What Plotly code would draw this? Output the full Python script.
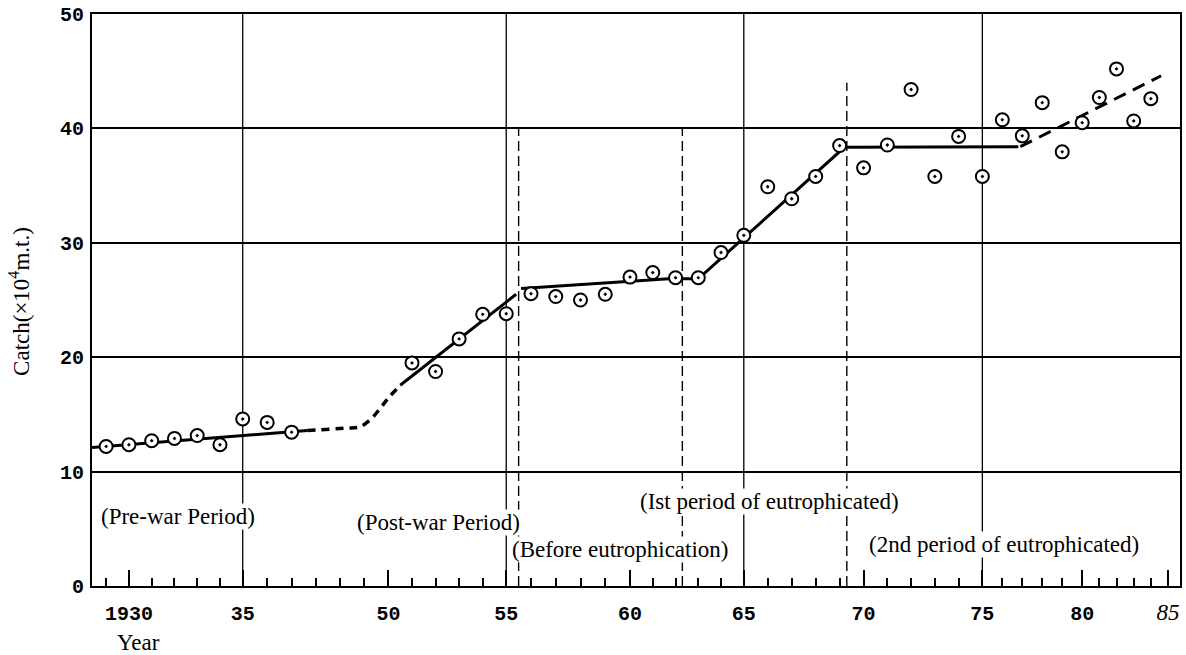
import numpy as np
import plotly.graph_objects as go

# ---------------- data ----------------
OBS_YEARS = [1929, 1930, 1931, 1932, 1933, 1934, 1935, 1936, 1937,
             1951, 1952, 1953, 1954, 1955, 1956, 1957, 1958, 1959, 1960,
             1961, 1962, 1963, 1964, 1965, 1966, 1967, 1968, 1969, 1970,
             1971, 1972, 1973, 1974, 1975, 1976, 1977, 1978, 1979, 1980,
             1981, 1982, 1983, 1984]
OBS_CATCH = [12.2, 12.35, 12.7, 12.9, 13.15, 12.35, 14.6, 14.3, 13.45,
             19.5, 18.75, 21.6, 23.75, 23.8, 25.55, 25.3, 25.0, 25.5, 27.0,
             27.4, 26.95, 26.95, 29.15, 30.65, 34.9, 33.85, 35.8, 38.5, 36.55,
             38.55, 43.4, 35.8, 39.3, 35.8, 40.75, 39.35, 42.25, 37.95, 40.5,
             42.7, 45.2, 40.65, 42.6]

PREWAR_YEARS = [1928.38, 1939.1]
PREWAR_CATCH = [12.1, 13.6]

WAR_YEARS = [1939.1, 1944.3, 1946.1, 1947.5, 1948.8, 1950.0, 1950.5]
WAR_CATCH = [13.6, 13.8, 13.9, 14.5, 15.45, 16.45, 17.5]

POSTWAR_YEARS = [1950.5, 1955.4]
POSTWAR_CATCH = [17.55, 25.5]

EUTRO_YEARS = [1955.6, 1961.7, 1963.0, 1969.2, 1976.8]
EUTRO_CATCH = [26.0, 26.85, 26.85, 38.35, 38.4]

LATE_YEARS = [1976.9, 1984.6]
LATE_CATCH = [38.4, 44.6]

GRID_YEARS = [1935, 1955, 1965, 1975]
PERIOD_YEARS = [1955.5, 1962.3, 1969.3]
PERIOD_TOPS = [40, 40, 44]

LABEL_YEARS = [1930, 1935, 1950, 1955, 1960, 1965, 1970, 1975, 1980, 1985]
LABEL_TEXT = ["1930", "35", "50", "55", "60", "65", "70", "75", "80",
              "<span style='font-family:Liberation Serif;font-size:23px;font-weight:normal'><i>85</i></span>"]

PERIOD_LABELS = ["(Pre-war Period)", "(Post-war Period)", "(Before eutrophication)",
                 "(Ist period of eutrophicated)", "(2nd period of eutrophicated)"]

# drawn (hand-ruled) year scale of the original figure, with the war gap compressed
YEAR_KNOTS = [1928.38, 1930, 1935, 1937, 1950, 1955, 1960, 1965, 1970, 1975, 1980, 1985, 1985.7]
RULER_KNOTS = [0, 37, 151, 200, 297, 415, 539, 653, 773, 892, 992, 1078, 1090]


def R(years):
    return np.interp(np.asarray(years, dtype=float), YEAR_KNOTS, RULER_KNOTS)


minor_years = [y for y in range(1929, 1938) if y not in LABEL_YEARS]
minor_years += [1937 + 13 * k / 4 for k in (1, 2, 3)]
minor_years += [y for y in range(1951, 1986) if y not in LABEL_YEARS]

fig = go.Figure()

line_style = dict(color="black", width=3)
fig.add_trace(go.Scatter(x=R(PREWAR_YEARS), y=PREWAR_CATCH, mode="lines", line=line_style))
fig.add_trace(go.Scatter(x=R(WAR_YEARS), y=WAR_CATCH, mode="lines",
                         line=dict(color="black", width=3.5, dash="8px,6px", shape="spline")))
fig.add_trace(go.Scatter(x=R(POSTWAR_YEARS), y=POSTWAR_CATCH, mode="lines", line=line_style))
fig.add_trace(go.Scatter(x=R(EUTRO_YEARS), y=EUTRO_CATCH, mode="lines", line=line_style))
fig.add_trace(go.Scatter(x=R(LATE_YEARS), y=LATE_CATCH, mode="lines",
                         line=dict(color="black", width=3, dash="13px,8px")))
fig.add_trace(go.Scatter(x=R(OBS_YEARS), y=OBS_CATCH, mode="markers",
                         marker=dict(symbol="circle-dot", size=13, color="white",
                                     line=dict(color="black", width=2))))

shapes = []
for yr in GRID_YEARS:
    xv = float(R(yr))
    shapes.append(dict(type="line", xref="x", yref="y", x0=xv, x1=xv, y0=0, y1=50,
                       line=dict(color="black", width=1.3), layer="below"))
for yr, top in zip(PERIOD_YEARS, PERIOD_TOPS):
    xv = float(R(yr))
    shapes.append(dict(type="line", xref="x", yref="y", x0=xv, x1=xv, y0=0, y1=top,
                       line=dict(color="black", width=1.4, dash="10px,5px"), layer="below"))

serif = "Liberation Serif"
mono = "Liberation Mono"

ann_pos = [(1928.75, 6.1), (1945.7, 5.55), (1955.2, 3.2), (1960.4, 7.4), (1970.2, 3.65)]
annotations = []
for text, (yr, val) in zip(PERIOD_LABELS, ann_pos):
    annotations.append(dict(x=float(R(yr)), y=val, xref="x", yref="y", text=text,
                            showarrow=False, xanchor="left", yanchor="middle",
                            bgcolor="white", borderpad=0,
                            font=dict(family=serif, size=23, color="black")))
annotations.append(dict(x=-0.066, y=0.497, xref="paper", yref="paper",
                        text="Catch(×10<sup>4</sup>m.t.)", textangle=-90, showarrow=False,
                        xanchor="center", yanchor="middle",
                        font=dict(family=serif, size=23, color="black")))
annotations.append(dict(x=float(R(1930.4)), y=-0.099, xref="x", yref="paper", text="Year",
                        showarrow=False, xanchor="center", yanchor="middle",
                        font=dict(family=serif, size=23, color="black")))

fig.update_layout(
    width=1186, height=655,
    margin=dict(l=92, r=4, t=11, b=69),
    paper_bgcolor="white", plot_bgcolor="white",
    showlegend=False,
    shapes=shapes, annotations=annotations,
    xaxis=dict(range=[0, 1090], tickmode="array", tickvals=R(LABEL_YEARS), ticktext=LABEL_TEXT,
               ticks="inside", ticklen=16, tickwidth=1.5, tickcolor="black",
               showgrid=False, zeroline=False, showline=True, linecolor="black", linewidth=2,
               mirror=True, ticklabelstandoff=8,
               tickfont=dict(family=mono, size=20, color="black", weight="bold"),
               minor=dict(tickmode="array", tickvals=R(minor_years), ticks="inside",
                          ticklen=8, tickwidth=1.5, tickcolor="black", showgrid=False)),
    yaxis=dict(range=[0, 50], tickmode="array", tickvals=[0, 10, 20, 30, 40, 50],
               ticks="", showgrid=True, gridcolor="black", gridwidth=1.6,
               zeroline=False, showline=True, linecolor="black", linewidth=2, mirror=True,
               ticklabelstandoff=2,
               tickfont=dict(family=mono, size=20, color="black", weight="bold")),
)

fig.write_html("out.html")
